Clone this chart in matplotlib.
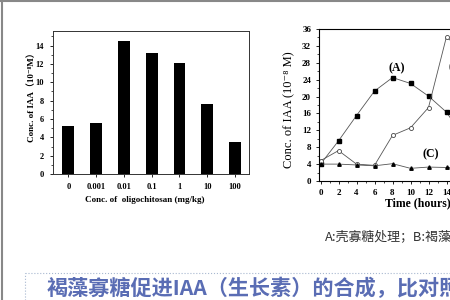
import matplotlib
matplotlib.use('Agg')
import matplotlib.pyplot as plt
from matplotlib.lines import Line2D
from matplotlib.ticker import MultipleLocator

serif = ['Liberation Serif', 'DejaVu Serif']
cjk = ['Noto Sans CJK SC', 'DejaVu Sans']

# left chart: IAA vs oligochitosan concentration
doses = ['0', '0.001', '0.01', '0.1', '1', '10', '100']
iaa_dose = [5.2, 5.6, 14.5, 13.2, 12.1, 7.6, 3.5]

# right chart: IAA over time
hours = [0, 2, 4, 6, 8, 10, 12, 14, 16]
iaa_a = [4.0, 9.5, 15.5, 21.3, 24.5, 23.1, 20.1, 16.3, 10.0]
iaa_b = [4.8, 7.2, 4.0, 3.7, 10.8, 12.6, 17.4, 34.2, 30.0]
iaa_c = [4.0, 4.0, 3.8, 3.6, 4.1, 3.0, 3.3, 3.2, 3.2]

caption = 'A:壳寡糖处理；B:褐藻寡糖处理；C:对照'
title = '褐藻寡糖促进IAA（生长素）的合成，比对照组高'

fig = plt.figure(figsize=(4.5, 3), dpi=100)
W, H = 450.0, 300.0

def px(x0, y0, x1, y1):
    # axes rect from pixel corners (top-left origin)
    return [x0 / W, 1 - y1 / H, (x1 - x0) / W, (y1 - y0) / H]

# ---- bar chart
ax1 = fig.add_axes(px(53, 31, 249, 174))
xs = range(len(doses))
ax1.bar(xs, iaa_dose, width=0.43, color='black')
ax1.set_xlim(-0.55, 6.5)
ax1.set_ylim(0, 15.6)
ax1.set_xticks(list(xs))
ax1.set_xticklabels(doses)
ax1.yaxis.set_major_locator(MultipleLocator(2))
ax1.yaxis.set_minor_locator(MultipleLocator(1))
ax1.tick_params(length=2.5, width=0.6, pad=4, labelsize=6)
ax1.tick_params(which='minor', length=1.5, width=0.5)
for lab in ax1.get_xticklabels() + ax1.get_yticklabels():
    lab.set_family(serif)
    lab.set_fontweight('bold')
for s in ax1.spines.values():
    s.set_linewidth(0.7)
    s.set_color('#333333')
fig.text(32 / W, 1 - 95 / H, 'Conc. of IAA（10⁻⁸M）', rotation=90, ha='center', va='center',
         fontsize=6.5, fontweight='bold', family=serif + ['Noto Sans CJK SC'])
fig.text(145 / W, 1 - 200 / H, 'Conc. of  oligochitosan (mg/kg)', ha='center', va='center',
         fontsize=6.5, fontweight='bold', family=serif)

# ---- time course chart (cut off at the right edge)
ax2 = fig.add_axes(px(318.7, 29, 318.7 + 24.2 * 9, 181))
ax2.plot(hours, iaa_a, color='#555555', lw=0.6, marker='s', ms=2.3, mfc='black', mec='black')
ax2.plot(hours, iaa_b, color='#555555', lw=0.6, marker='o', ms=2.9, mfc='white', mec='#444444', mew=0.6)
ax2.plot(hours, iaa_c, color='#555555', lw=0.6, marker='^', ms=2.5, mfc='black', mec='black')
ax2.set_xlim(-0.2, 24)
ax2.set_ylim(0, 36)
ax2.xaxis.set_major_locator(MultipleLocator(2))
ax2.xaxis.set_minor_locator(MultipleLocator(1))
ax2.yaxis.set_major_locator(MultipleLocator(4))
ax2.yaxis.set_minor_locator(MultipleLocator(2))
ax2.tick_params(length=2.5, width=0.6, pad=3, labelsize=6.5)
ax2.tick_params(which='minor', length=1.5, width=0.5)
for lab in ax2.get_xticklabels() + ax2.get_yticklabels():
    lab.set_family(serif)
    lab.set_fontweight('bold')
for s in ax2.spines.values():
    s.set_linewidth(0.8)
ax2.text(8.5, 26.7, '(A)', ha='center', va='center', fontsize=8.5, fontweight='bold', family=serif)
ax2.text(14.2, 27, '(B)', ha='left', va='center', fontsize=8.5, fontweight='bold', family=serif)
ax2.text(12.2, 6.3, '(C)', ha='center', va='center', fontsize=8.5, fontweight='bold', family=serif)
fig.text(289 / W, 1 - 110 / H, 'Conc. of IAA (10⁻⁸ M)', rotation=90, ha='center', va='center',
         fontsize=9, family=serif)
fig.text(385 / W, 1 - 203 / H, 'Time (hours)', ha='left', va='center',
         fontsize=8.5, fontweight='bold', family=serif)

# ---- caption and bottom title
fig.text(325 / W, 1 - 237 / H, caption, ha='left', va='center', fontsize=9.3,
         color='#333333', family=cjk)
fig.text(47 / W, 1 - 288 / H, title, ha='left', va='center', fontsize=15.2,
         fontweight='bold', color='#5a6db4', family=cjk)

# page frame lines
fig.add_artist(Line2D([0, 1], [1 - 1 / H, 1 - 1 / H], color='#888888', lw=1.5))
fig.add_artist(Line2D([1.5 / W, 1.5 / W], [0, 1], color='#888888', lw=1.5))
fig.add_artist(Line2D([25 / W, 1], [1 - 273 / H, 1 - 273 / H], color='#a8b8d0', lw=0.8, ls=':'))
fig.add_artist(Line2D([25 / W, 25 / W], [0, 1 - 273 / H], color='#a8b8d0', lw=0.8, ls=':'))

fig.savefig('out.png', dpi=100)
